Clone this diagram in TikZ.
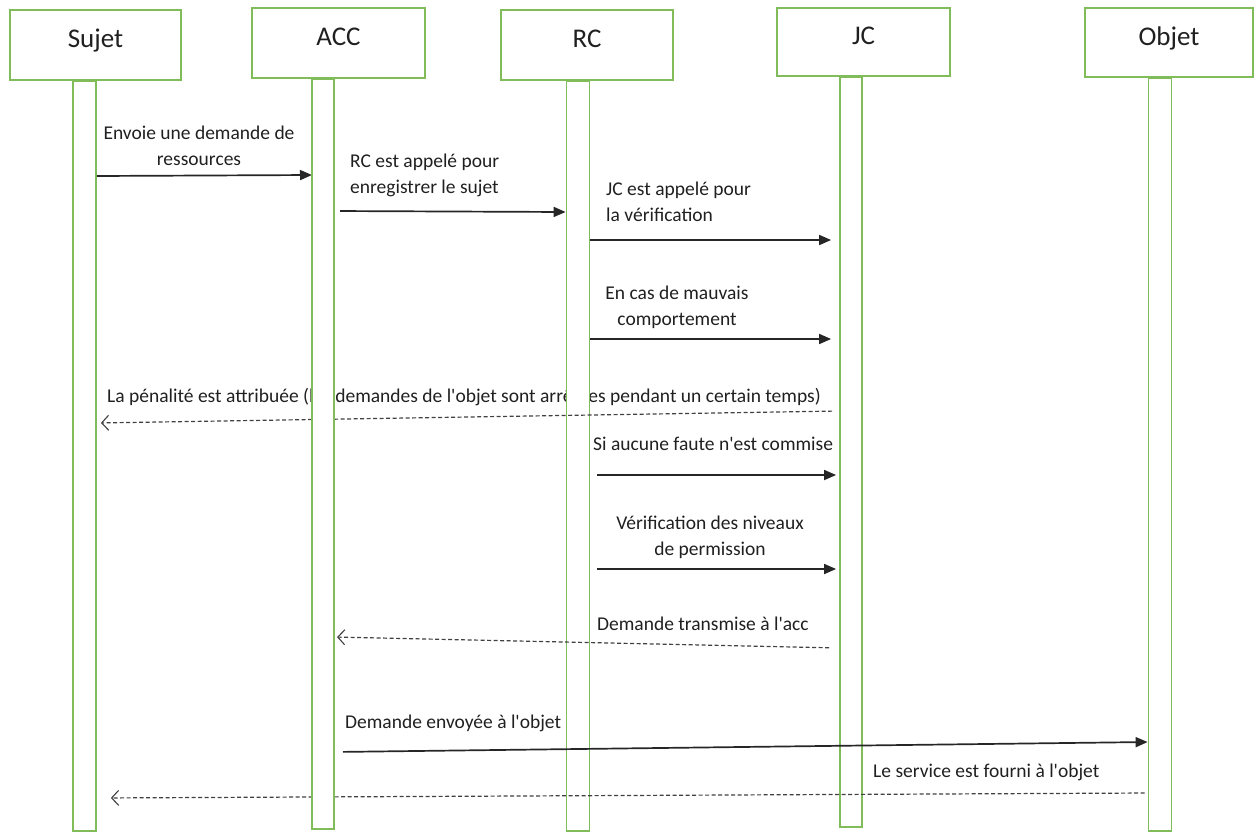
\documentclass[tikz,border=0pt]{standalone}
\usepackage{fontspec}
\setmainfont{Carlito}
\usetikzlibrary{arrows.meta}
\definecolor{lifegreen}{RGB}{128,188,90}
\definecolor{ink}{RGB}{32,32,32}
\newcommand{\apos}{\textquotesingle}
\begin{document}
\begin{tikzpicture}[x=1pt,y=-1pt,
  actor/.style={draw=lifegreen, line width=2.2pt, fill=white,
    minimum width=171pt, minimum height=70pt, inner sep=0pt,
    font=\fontsize{27}{30}\selectfont, text=ink,
    text height=17.5pt, text depth=12pt},
  bar/.style={draw=lifegreen, line width=1.8pt, fill=white,
    minimum width=22pt, minimum height=750pt, inner sep=0pt, anchor=north},
  lbl/.style={font=\fontsize{19.5}{26.5}\selectfont, text=ink, inner sep=0pt},
  call/.style={draw=black!85, line width=1.7pt,
    -{Triangle[length=12pt,width=10pt]}},
  reply/.style={draw=black!75, line width=1.2pt, dash pattern=on 4pt off 2.5pt,
    -{Straight Barb[length=7pt,width=15pt,line width=1.1pt]}}
]
\useasboundingbox (0,0) rectangle (1255,833);

% message labels (drawn first so that the lifelines lie over them);
% a multi-line label is placed by the baseline of its last line
\node[lbl, anchor=base, align=center] (t1) at (199,165.5) {Envoie une demande de\\ressources};
\node[lbl, anchor=base west, align=left] (t2) at (350,193.5) {RC est appelé pour\\enregistrer le sujet};
\node[lbl, anchor=base west, align=left] (t3) at (606,221.5) {JC est appelé pour\\la vérification};
\node[lbl, anchor=base, align=center] (t4) at (677,325.5) {En cas de mauvais\\comportement};
\node[lbl, anchor=base west] (t5) at (107,402) {La pénalité est attribuée (les demandes de l\apos objet sont arrêtées pendant un certain temps)};
\node[lbl, anchor=base west] (t6) at (593,450) {Si aucune faute n\apos est commise};
\node[lbl, anchor=base, align=center] (t7) at (710,555.5) {Vérification des niveaux\\de permission};
\node[lbl, anchor=base west] (t8) at (597,630) {Demande transmise à l\apos acc};
\node[lbl, anchor=base west] (t9) at (345,728) {Demande envoyée à l\apos objet};
\node[lbl, anchor=base west] (t10) at (873,777) {Le service est fourni à l\apos objet};

% lifelines
\node[bar, minimum width=23pt] (sujetL) at (84.5,80) {};
\node[bar, minimum width=23pt] (rcL) at (578,80) {};
\node[bar] (jcL) at (851,76) {};
\node[bar, minimum width=23pt, minimum height=753pt] (objL) at (1160,77) {};

% participant boxes
\node[actor] (sujet) at (95.5,45) {Sujet};
\node[actor, minimum width=173pt] (acc) at (338.5,43) {ACC};
\node[actor, minimum width=172pt] (rc) at (587,45) {RC};
\node[actor, minimum width=173pt, minimum height=68pt] (jc) at (863.5,42) {JC};
\node[actor, minimum width=168pt, minimum height=69pt] (objet) at (1169,42.5) {Objet};

% messages
\draw[call] (sujetL.east |- 0,176) -- (312,175);
\draw[call, shorten <=6pt] (334,211) -- (rcL.west |- 0,212);
\draw[call, shorten >=8pt] (rcL.east |- 0,240) -- (jcL.west |- 0,240);
\draw[call, shorten >=8pt] (rcL.east |- 0,339) -- (jcL.west |- 0,339);
\draw[reply, shorten <=7pt, shorten >=4pt] (jcL.west |- 0,411) -- (sujetL.east |- 0,423);
\draw[call, shorten <=7pt, shorten >=3pt] (rcL.east |- 0,475) -- (jcL.west |- 0,475);
\draw[call, shorten <=7pt, shorten >=3pt] (rcL.east |- 0,569) -- (jcL.west |- 0,569);
\draw[reply, shorten <=10pt, shorten >=3pt] (jcL.west |- 0,648) -- (334,637);
\draw[call, shorten <=9pt] (334,752) -- (objL.west |- 0,742);
\draw[reply, shorten <=3pt, shorten >=14pt] (objL.west |- 0,793) -- (sujetL.east |- 0,798);

% the ACC lifeline lies over everything crossing it
\node[bar] (accL) at (323,78) {};
\end{tikzpicture}
\end{document}
